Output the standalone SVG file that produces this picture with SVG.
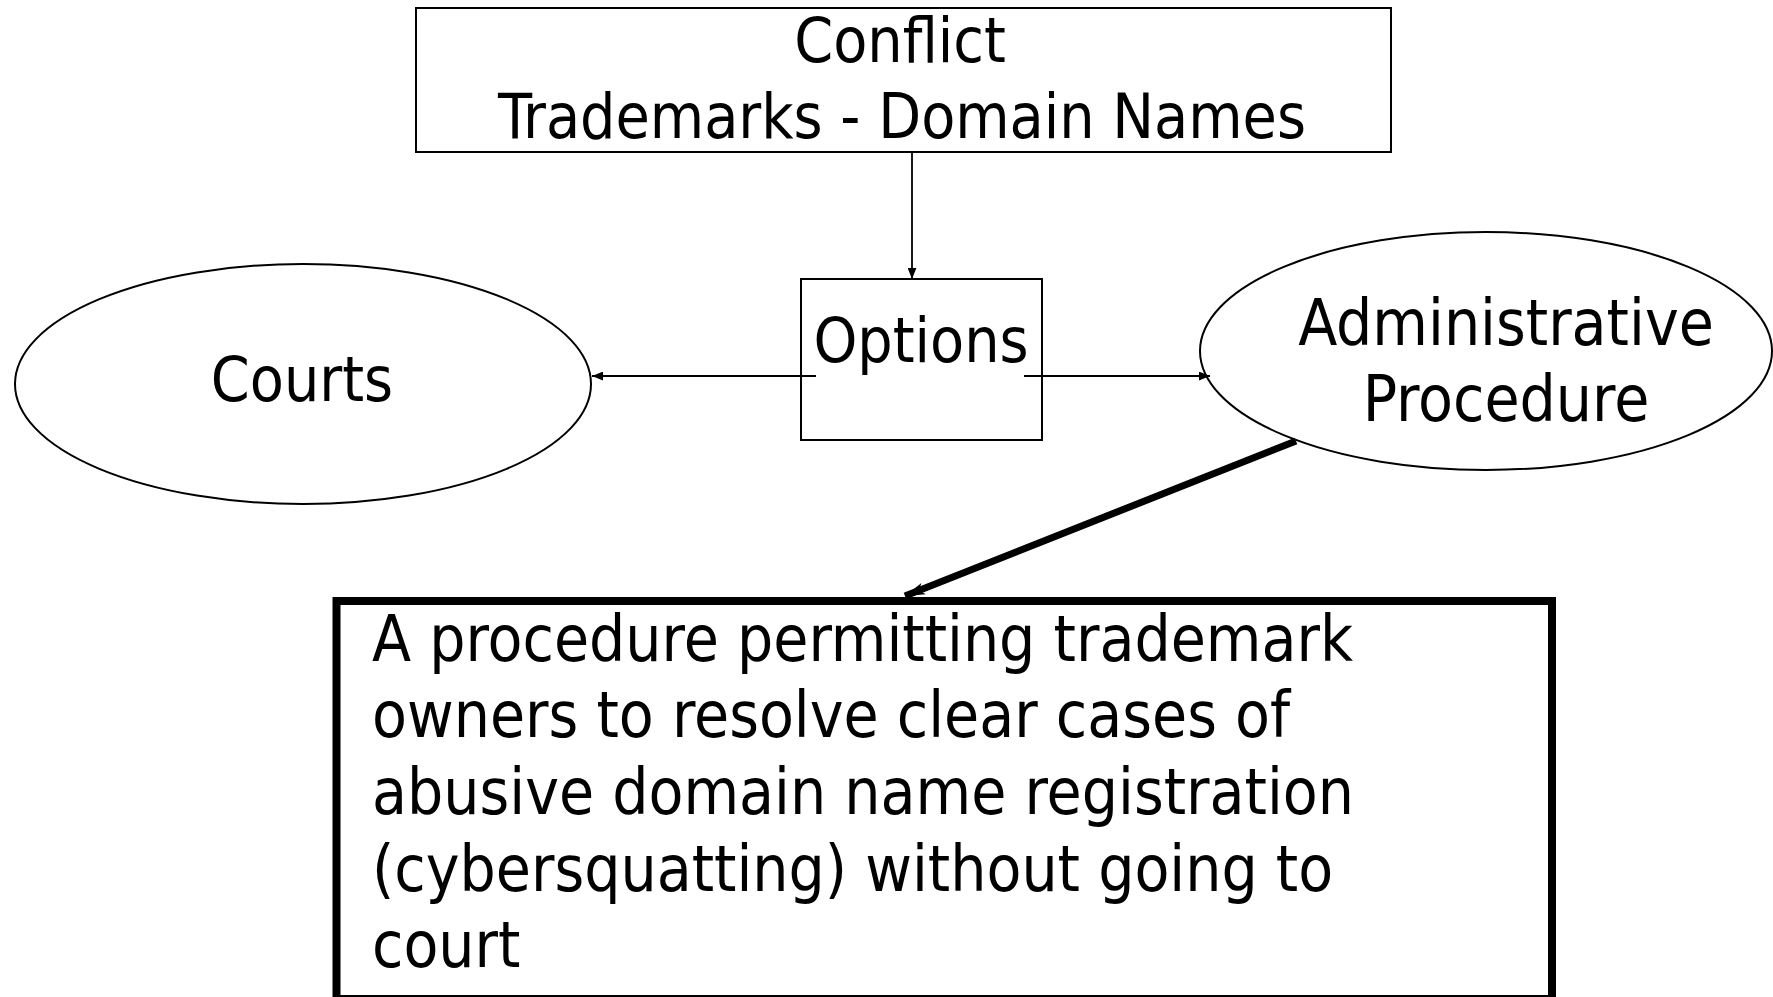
<svg xmlns="http://www.w3.org/2000/svg" width="1773" height="997" viewBox="0 0 1773 997">
<style>
.t{font-family:"DejaVu Sans Condensed","DejaVu Sans",sans-serif;font-size:62px;fill:#000}
.b{font-size:63.5px}
.s{fill:#fff;stroke:#000;stroke-width:2}
.c{fill:none;stroke:#000;stroke-width:1.8}
</style>
<defs>
<marker id="a" viewBox="0 0 10 8" refX="10" refY="4" markerWidth="11" markerHeight="9" markerUnits="userSpaceOnUse" orient="auto"><path d="M0,0L10,4L0,8z" fill="#000"/></marker>
<marker id="b" viewBox="0 0 20 12" refX="20" refY="6" markerWidth="20" markerHeight="13" markerUnits="userSpaceOnUse" orient="auto"><path d="M0,0L20,6L0,12L5,6z" fill="#000"/></marker>
</defs>
<rect width="1773" height="997" fill="#fff"/>
<g id="conflict">
<rect class="s" x="416" y="8" width="975" height="144"/>
<text class="t" x="900" y="62" text-anchor="middle">Conflict</text>
<text class="t" x="902" y="138" text-anchor="middle">Trademarks - Domain Names</text>
</g>
<g id="options">
<rect class="s" x="801" y="279" width="241" height="161"/>
</g>
<g id="courts">
<ellipse class="s" cx="303" cy="384" rx="288" ry="120"/>
<text class="t" x="302" y="401" text-anchor="middle">Courts</text>
</g>
<g id="admin">
<ellipse class="s" cx="1486" cy="351" rx="286" ry="119"/>
<text class="t b" x="1506" y="345" text-anchor="middle">Administrative</text>
<text class="t b" x="1506" y="421" text-anchor="middle">Procedure</text>
</g>
<g id="description">
<rect x="336.5" y="601" width="1215.5" height="398" fill="#fff" stroke="#000" stroke-width="8"/>
<text class="t b" x="372" y="661">A procedure permitting trademark</text>
<text class="t b" x="372" y="737">owners to resolve clear cases of</text>
<text class="t b" x="372" y="814">abusive domain name registration</text>
<text class="t b" x="372" y="891">(cybersquatting) without going to</text>
<text class="t b" x="372" y="967">court</text>
</g>
<g id="connectors">
<line class="c" x1="912" y1="152" x2="912" y2="279" marker-end="url(#a)"/>
<line class="c" x1="816" y1="376" x2="592" y2="376" marker-end="url(#a)"/>
<line class="c" x1="1024" y1="376" x2="1210" y2="376" marker-end="url(#a)"/>
<line x1="1296" y1="441" x2="905" y2="596" stroke="#000" stroke-width="7" marker-end="url(#b)"/>
</g>
<g id="options-label">
<text class="t" x="921" y="362" text-anchor="middle">Options</text>
</g>
</svg>
